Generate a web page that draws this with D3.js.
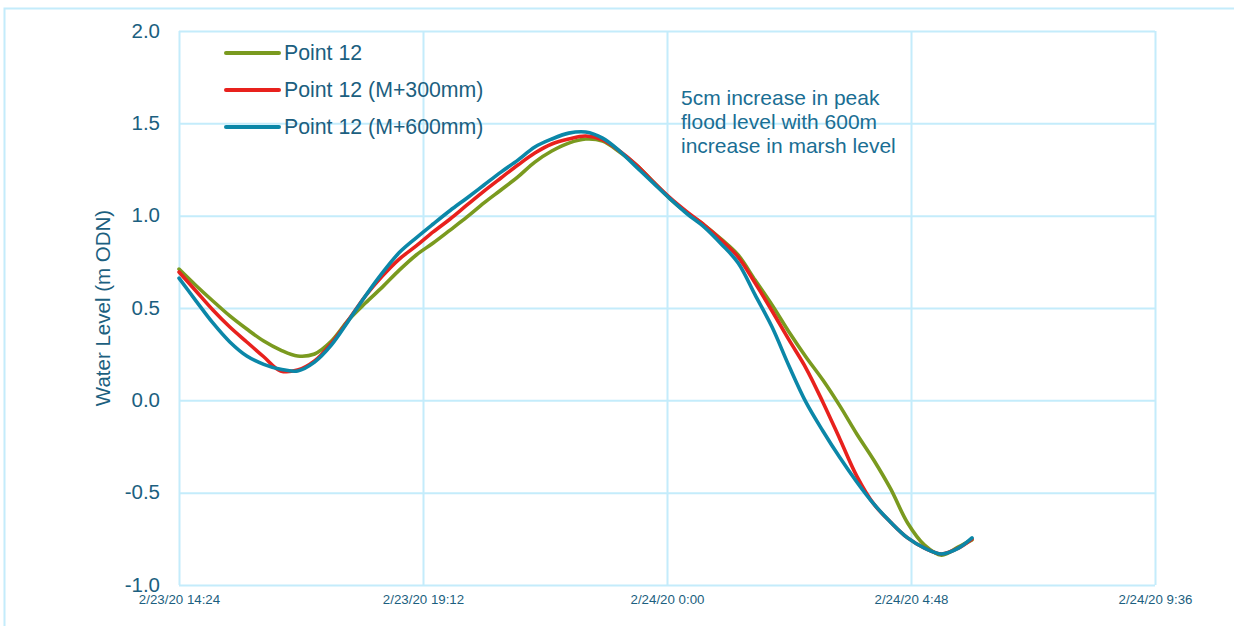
<!DOCTYPE html>
<html>
<head>
<meta charset="utf-8">
<script src="https://cdn.jsdelivr.net/npm/d3@7"></script>
<style>
  html, body { margin: 0; padding: 0; background: #fff; }
  svg { display: block; font-family: "Liberation Sans", Arial, sans-serif; }
</style>
</head>
<body>
<svg id="chart" width="1234" height="626"></svg>
<script>
// Sample times (20-minute model output steps)
const times = [
  "2020-02-23T14:24", "2020-02-23T14:44", "2020-02-23T15:04", "2020-02-23T15:24",
  "2020-02-23T15:44", "2020-02-23T16:04", "2020-02-23T16:24", "2020-02-23T16:44",
  "2020-02-23T17:04", "2020-02-23T17:24", "2020-02-23T17:44", "2020-02-23T18:04",
  "2020-02-23T18:24", "2020-02-23T18:44", "2020-02-23T19:04", "2020-02-23T19:24",
  "2020-02-23T19:44", "2020-02-23T20:04", "2020-02-23T20:24", "2020-02-23T20:44",
  "2020-02-23T21:04", "2020-02-23T21:24", "2020-02-23T21:44", "2020-02-23T22:04",
  "2020-02-23T22:24", "2020-02-23T22:44", "2020-02-23T23:04", "2020-02-23T23:24",
  "2020-02-23T23:44", "2020-02-24T00:04", "2020-02-24T00:24", "2020-02-24T00:44",
  "2020-02-24T01:04", "2020-02-24T01:24", "2020-02-24T01:44", "2020-02-24T02:04",
  "2020-02-24T02:24", "2020-02-24T02:44", "2020-02-24T03:04", "2020-02-24T03:24",
  "2020-02-24T03:44", "2020-02-24T04:04", "2020-02-24T04:24", "2020-02-24T04:44",
  "2020-02-24T05:04", "2020-02-24T05:24", "2020-02-24T05:44", "2020-02-24T06:00"
];

// Water level, m ODN
const point12 = [
  0.711, 0.622, 0.538, 0.457, 0.386, 0.321, 0.272, 0.240,
  0.251, 0.321, 0.435, 0.527, 0.613, 0.705, 0.787, 0.852,
  0.922, 0.993, 1.069, 1.139, 1.210, 1.290, 1.350, 1.393,
  1.415, 1.404, 1.345, 1.274, 1.182, 1.090, 1.014, 0.949,
  0.873, 0.787, 0.651, 0.516, 0.370, 0.235, 0.110, -0.030,
  -0.182, -0.323, -0.480, -0.664, -0.784, -0.838, -0.794, -0.756
];
const point12M300 = [
  0.695, 0.592, 0.489, 0.397, 0.316, 0.236, 0.159, 0.164,
  0.213, 0.310, 0.435, 0.565, 0.673, 0.765, 0.836, 0.912,
  0.982, 1.058, 1.133, 1.204, 1.274, 1.339, 1.388, 1.415,
  1.431, 1.410, 1.350, 1.274, 1.182, 1.095, 1.019, 0.949,
  0.868, 0.776, 0.635, 0.484, 0.327, 0.175, -0.010, -0.209,
  -0.410, -0.561, -0.660, -0.745, -0.800, -0.832, -0.800, -0.751
];
const point12M600 = [
  0.662, 0.539, 0.419, 0.316, 0.240, 0.195, 0.168, 0.159,
  0.207, 0.300, 0.430, 0.565, 0.690, 0.800, 0.880, 0.955,
  1.028, 1.096, 1.166, 1.236, 1.301, 1.372, 1.415, 1.447,
  1.453, 1.420, 1.350, 1.263, 1.176, 1.090, 1.009, 0.938,
  0.847, 0.744, 0.571, 0.397, 0.186, -0.010, -0.166, -0.310,
  -0.442, -0.561, -0.660, -0.745, -0.800, -0.832, -0.800, -0.745
];

const seriesNames = ["Point 12", "Point 12 (M+300mm)", "Point 12 (M+600mm)"];
const seriesColors = ["#7a9a1f", "#e8211d", "#0b87a8"];

const xTickLabels = ["2020-02-23T14:24", "2020-02-23T19:12", "2020-02-24T00:00", "2020-02-24T04:48", "2020-02-24T09:36"];
const yTickValues = [-1.0, -0.5, 0.0, 0.5, 1.0, 1.5, 2.0];

const annotationLines = ["5cm increase in peak", "flood level with 600m", "increase in marsh level"];

const parseTime = d3.timeParse("%Y-%m-%dT%H:%M");
const fmtTime = d3.timeFormat("%-m/%-d/%y %-H:%M");

const svg = d3.select("#chart");
const gridColor = "#c4ecfb";
const textColor = "#1c5f80";

const plot = { left: 179, right: 1155, top: 31, bottom: 585 };

const x = d3.scaleTime()
  .domain([parseTime(xTickLabels[0]), parseTime(xTickLabels[xTickLabels.length - 1])])
  .range([plot.left, plot.right]);
const y = d3.scaleLinear()
  .domain([-1, 2])
  .range([plot.bottom, plot.top]);

// Outer chart frame
svg.append("rect")
  .attr("x", 4.5).attr("y", 8.5)
  .attr("width", 1300).attr("height", 700)
  .attr("fill", "none").attr("stroke", gridColor).attr("stroke-width", 2);

// Gridlines
const xTicks = xTickLabels.map(parseTime);
svg.append("g")
  .attr("transform", `translate(0,${plot.bottom})`)
  .call(d3.axisBottom(x).tickValues(xTicks).tickSize(-(plot.bottom - plot.top)).tickFormat(""))
  .call(g => g.select(".domain").remove())
  .call(g => g.selectAll("line").attr("stroke", gridColor).attr("stroke-width", 2));
svg.append("g")
  .attr("transform", `translate(${plot.left},0)`)
  .call(d3.axisLeft(y).tickValues(yTickValues).tickSize(-(plot.right - plot.left)).tickFormat(""))
  .call(g => g.select(".domain").remove())
  .call(g => g.selectAll("line").attr("stroke", gridColor).attr("stroke-width", 2));

// Y tick labels
svg.append("g")
  .attr("transform", `translate(${plot.left},0)`)
  .call(d3.axisLeft(y).tickValues(yTickValues).tickSize(0).tickPadding(19).tickFormat(v => v.toFixed(1)))
  .call(g => g.select(".domain").remove())
  .call(g => g.selectAll("text")
    .attr("fill", textColor)
    .attr("dy", "0.3em")
    .style("font-size", "20.5px")
    .style("font-family", "Liberation Sans, Arial, sans-serif"));

// X tick labels
svg.append("g")
  .attr("transform", `translate(0,${plot.bottom})`)
  .call(d3.axisBottom(x).tickValues(xTicks).tickSize(0).tickPadding(10).tickFormat(fmtTime))
  .call(g => g.select(".domain").remove())
  .call(g => g.selectAll("text")
    .attr("fill", textColor)
    .style("font-size", "13.3px")
    .style("font-family", "Liberation Sans, Arial, sans-serif"));

// Y axis title
svg.append("text")
  .attr("transform", `translate(110,${(plot.top + plot.bottom) / 2}) rotate(-90)`)
  .attr("text-anchor", "middle")
  .attr("fill", textColor)
  .style("font-size", "20.5px")
  .text("Water Level (m ODN)");

// Series lines
const allSeries = [point12, point12M300, point12M600];
const line = d3.line()
  .x((d, i) => x(parseTime(times[i])))
  .y(d => y(d))
  .curve(d3.curveCatmullRom.alpha(0.5));

svg.append("g")
  .selectAll("path")
  .data(allSeries)
  .join("path")
  .attr("d", d => line(d))
  .attr("fill", "none")
  .attr("stroke", (d, i) => seriesColors[i])
  .attr("stroke-width", 3.6)
  .attr("stroke-linejoin", "round")
  .attr("stroke-linecap", "round");

// Legend
const legend = svg.append("g").attr("transform", "translate(226,53)");
seriesNames.forEach((name, i) => {
  const g = legend.append("g").attr("transform", `translate(0,${i * 37})`);
  g.append("line")
    .attr("x1", 0).attr("x2", 53)
    .attr("stroke", seriesColors[i]).attr("stroke-width", 4)
    .attr("stroke-linecap", "round");
  g.append("text")
    .attr("x", 58).attr("y", 0).attr("dy", "0.35em")
    .attr("fill", textColor)
    .style("font-size", "21.3px")
    .text(name);
});

// Annotation
svg.append("text")
  .attr("x", 681).attr("y", 98)
  .attr("fill", "#1a6e93")
  .style("font-size", "21px")
  .selectAll("tspan")
  .data(annotationLines)
  .join("tspan")
  .attr("x", 681)
  .attr("dy", (d, i) => i === 0 ? "0.35em" : "24px")
  .text(d => d);
</script>
</body>
</html>
